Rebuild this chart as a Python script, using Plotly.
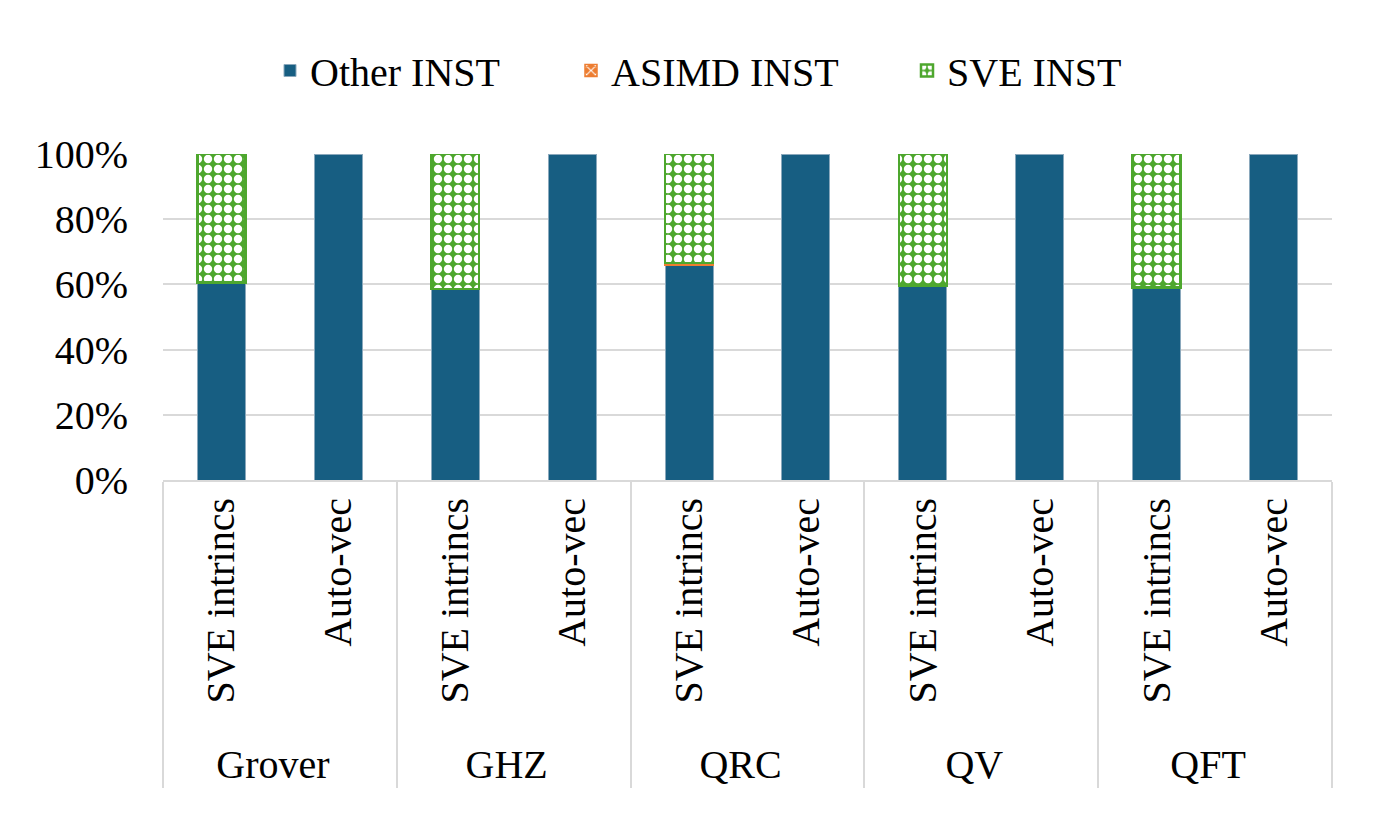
import plotly.graph_objects as go

groups = ["Grover", "GHZ", "QRC", "QV", "QFT"]
variants = ["SVE intrincs", "Auto-vec"]

# fractions per (group, variant)
other_inst = [0.605, 1.0, 0.585, 1.0, 0.660, 1.0, 0.593, 1.0, 0.590, 1.0]
asimd_inst = [0.001, 0.0, 0.001, 0.0, 0.005, 0.0, 0.003, 0.0, 0.001, 0.0]
sve_inst = [0.394, 0.0, 0.414, 0.0, 0.335, 0.0, 0.404, 0.0, 0.409, 0.0]

xg = [g for g in groups for _ in variants]
xv = [v for _ in groups for v in variants]
x = [xg, xv]

FONT = "Liberation Serif, Times New Roman, serif"

def lw(vals, w):
    return [w if v > 0 else 0 for v in vals]

fig = go.Figure()
fig.add_trace(go.Bar(
    name="Other INST", x=x, y=other_inst, legendwidth=256,
    marker=dict(color="#175E82", line=dict(color="#8AA8BC", width=1)),
))
fig.add_trace(go.Bar(
    name="ASIMD INST", x=x, y=asimd_inst, legendwidth=291,
    marker=dict(color="#ED7D31", line=dict(color="#ED7D31", width=lw(asimd_inst, 1.5)),
                pattern=dict(shape="x", fgcolor="white", bgcolor="#ED7D31", size=8,
                             solidity=0.3, fgopacity=1)),
))
fig.add_trace(go.Bar(
    name="SVE INST", x=x, y=sve_inst, legendwidth=200,
    marker=dict(color="#4EA72E", line=dict(color="#4EA72E", width=lw(sve_inst, 2.5)),
                pattern=dict(shape=".", fgcolor="white", bgcolor="#4EA72E", size=10,
                             solidity=0.55, fgopacity=1)),
))

fig.update_layout(
    barmode="stack",
    bargap=0.59,
    width=1372, height=809,
    paper_bgcolor="white", plot_bgcolor="white",
    margin=dict(l=155, r=48, t=146, b=337, autoexpand=False),
    font=dict(family=FONT, size=40, color="black"),
    legend=dict(orientation="h", x=262 / 1372, xanchor="left", xref="container",
                y=1 - 30 / 809, yref="container", yanchor="top",
                font=dict(size=40), traceorder="normal", itemwidth=30),
    showlegend=True,
)
fig.update_yaxes(
    range=[0, 1.0], tickformat=".0%", dtick=0.2, tick0=0,
    showgrid=True, gridcolor="#D9D9D9", gridwidth=2,
    zeroline=False, showline=False, ticks="", ticklen=0,
    ticklabelstandoff=34,
    tickfont=dict(size=40), automargin=False,
)
fig.update_xaxes(
    type="multicategory", tickangle=-90,
    showline=True, linecolor="#D9D9D9", linewidth=2,
    dividercolor="#D9D9D9", dividerwidth=2,
    showgrid=False, ticks="", tickfont=dict(size=40), automargin=False,
)

fig.write_html("out.html")
